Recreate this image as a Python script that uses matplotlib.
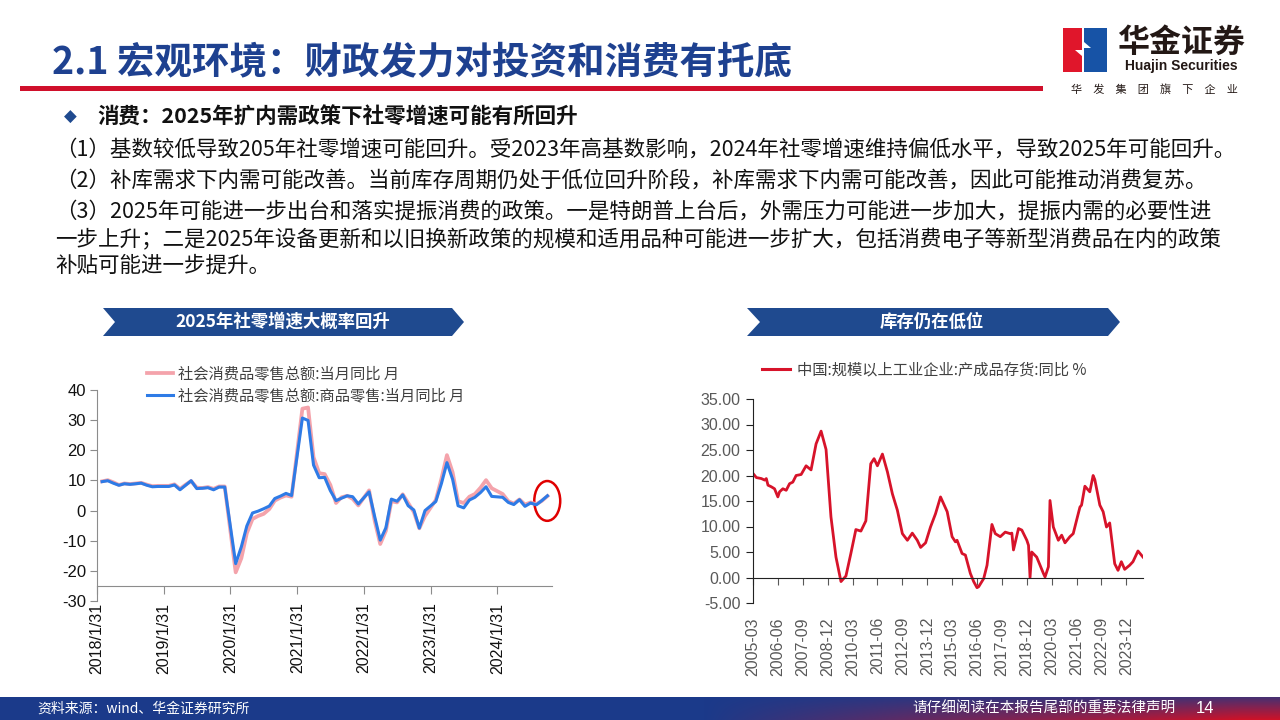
import matplotlib.pyplot as plt
from matplotlib.patches import Polygon, Ellipse, Rectangle
from matplotlib.lines import Line2D
import numpy as np
import pandas as pd

plt.rcParams['font.family'] = ['Noto Sans CJK SC', 'DejaVu Sans']

W, H = 1280, 720
NAVY = '#1F4A8F'
TITLE_BLUE = '#1E4190'
RED = '#D0102B'

# ---- 社零当月同比 (Jan-Feb reported together, plotted at Feb) ----
retail_years = [2018, 2019, 2020, 2021, 2022, 2023, 2024]
retail_total = [9.7, 10.1, 9.4, 8.5, 9.0, 8.8, 9.0, 9.2, 8.6, 8.1, 8.2,
                8.2, 8.7, 7.2, 8.6, 9.8, 7.6, 7.5, 7.8, 7.2, 8.0, 8.0,
                -20.5, -15.8, -7.5, -2.8, -1.8, -1.1, 0.5, 3.3, 4.3, 5.0, 4.6,
                33.8, 34.2, 17.7, 12.4, 12.1, 8.5, 2.5, 4.4, 4.9, 3.9, 1.7,
                6.7, -3.5, -11.1, -6.7, 3.1, 2.7, 5.4, 2.5, -0.5, -5.9, -1.8,
                3.5, 10.6, 18.4, 12.7, 3.1, 2.5, 4.6, 5.5, 7.6, 10.1, 7.4,
                5.5, 3.1, 2.3, 3.7, 2.0, 2.7, 2.1, 3.2, 4.8]
retail_goods = [9.6, 9.9, 9.1, 8.4, 8.9, 8.7, 8.9, 9.1, 8.4, 7.9, 8.0,
                8.0, 8.5, 6.9, 8.4, 9.9, 7.3, 7.4, 7.6, 6.9, 7.8, 7.8,
                -17.6, -12.0, -5.1, -0.8, -0.2, 0.6, 1.5, 4.0, 4.8, 5.7, 5.0,
                30.7, 29.9, 15.1, 10.9, 11.0, 6.6, 3.3, 4.1, 4.9, 4.6, 2.2,
                6.2, -2.1, -9.8, -5.7, 3.8, 3.1, 5.2, 1.6, 0.2, -5.8, 0.0,
                3.0, 9.0, 15.9, 10.4, 1.6, 0.9, 3.5, 4.4, 6.0, 7.9, 4.7,
                4.4, 2.7, 2.0, 3.6, 1.4, 2.5, 1.9, 3.3, 4.9]
retail_ticks = ['2018/1/31', '2019/1/31', '2020/1/31', '2021/1/31',
                '2022/1/31', '2023/1/31', '2024/1/31']
retail_labels = ['社会消费品零售总额:当月同比 月', '社会消费品零售总额:商品零售:当月同比 月']

# ---- 规模以上工业企业产成品存货同比 ----
inv_months = ['2005-03', '2005-05', '2005-08', '2005-10', '2005-11', '2005-12',
              '2006-02', '2006-04', '2006-06', '2006-07', '2006-09', '2006-11',
              '2007-01', '2007-03', '2007-05', '2007-08', '2007-11',
              '2008-02', '2008-05', '2008-08', '2008-11',
              '2009-02', '2009-05', '2009-08', '2009-11',
              '2010-02', '2010-05', '2010-08', '2010-11',
              '2011-02', '2011-04', '2011-06', '2011-09', '2011-12',
              '2012-03', '2012-06', '2012-09', '2012-12',
              '2013-03', '2013-06', '2013-08', '2013-11',
              '2014-02', '2014-05', '2014-08', '2014-12',
              '2015-03', '2015-05', '2015-06', '2015-09', '2015-11',
              '2016-02', '2016-04', '2016-06', '2016-07', '2016-10', '2016-12',
              '2017-03', '2017-05', '2017-08', '2017-11',
              '2018-02', '2018-03', '2018-04', '2018-07', '2018-09', '2018-12',
              '2019-01', '2019-02', '2019-03', '2019-06', '2019-08', '2019-10', '2019-11',
              '2020-01', '2020-02', '2020-04', '2020-07', '2020-09', '2020-11',
              '2021-02', '2021-04', '2021-06', '2021-08', '2021-09', '2021-11',
              '2022-02', '2022-04', '2022-05', '2022-08', '2022-10', '2022-12',
              '2023-02', '2023-05', '2023-07', '2023-09', '2023-11',
              '2024-02', '2024-04', '2024-07', '2024-10']
inv_yoy = [20.4, 19.6, 19.4, 19.1, 19.4, 18.1,
           17.8, 17.4, 15.8, 16.8, 17.4, 17.1,
           18.4, 18.7, 20.0, 20.2, 21.9,
           21.1, 26.2, 28.7, 25.1,
           11.9, 4.0, -0.8, 0.3,
           4.7, 9.4, 9.1, 11.1,
           22.3, 23.3, 21.9, 24.2, 20.7,
           16.4, 13.2, 8.6, 7.3,
           8.7, 7.3, 5.9, 6.8,
           9.9, 12.5, 15.8, 12.9,
           8.0, 7.0, 7.3, 4.7, 4.4,
           0.8, -0.8, -2.0, -1.8, -0.2, 2.4,
           10.4, 8.6, 8.0, 8.9,
           8.6, 8.7, 5.4, 9.6, 9.3, 7.3,
           6.3, 0.0, 5.0, 4.0, 2.4, 0.8, 0.1,
           2.1, 15.1, 9.9, 7.3, 8.3, 6.8,
           8.0, 8.6, 11.2, 13.8, 14.2, 17.9,
           16.8, 20.0, 19.2, 14.2, 12.9, 9.9,
           10.7, 2.7, 1.4, 3.1, 1.6,
           2.4, 3.1, 5.2, 4.0]
inv_label = '中国:规模以上工业企业:产成品存货:同比 %'

body_lines = [
    '（1）基数较低导致205年社零增速可能回升。受2023年高基数影响，2024年社零增速维持偏低水平，导致2025年可能回升。',
    '（2）补库需求下内需可能改善。当前库存周期仍处于低位回升阶段，补库需求下内需可能改善，因此可能推动消费复苏。',
    '（3）2025年可能进一步出台和落实提振消费的政策。一是特朗普上台后，外需压力可能进一步加大，提振内需的必要性进',
    '一步上升；二是2025年设备更新和以旧换新政策的规模和适用品种可能进一步扩大，包括消费电子等新型消费品在内的政策',
    '补贴可能进一步提升。',
]
body_y = [150, 181, 212, 240, 266]


def rect(x0, y0, x1, y1):
    return [x0 / W, 1 - y1 / H, (x1 - x0) / W, (y1 - y0) / H]


fig = plt.figure(figsize=(12.8, 7.2), dpi=100)

# ---------- page decoration (pixel coordinates) ----------
deco = fig.add_axes([0, 0, 1, 1])
deco.set_xlim(0, W)
deco.set_ylim(H, 0)
deco.axis('off')

deco.text(52, 62, '2.1 宏观环境：财政发力对投资和消费有托底', fontsize=27,
          fontweight='bold', color=TITLE_BLUE, va='center', ha='left')
deco.add_patch(Rectangle((20, 86), 1023, 4.5, color=RED, lw=0))

# logo
deco.add_patch(Rectangle((1063, 28), 19, 44, color='#E0162B', lw=0))
deco.add_patch(Rectangle((1084, 28), 23, 44, color='#1753A6', lw=0))
deco.add_patch(Polygon([(1082, 28), (1084, 28), (1084, 42), (1091, 48), (1084, 48),
                        (1084, 72), (1082, 72), (1082, 56), (1075, 50), (1082, 50)],
                       closed=True, color='white', lw=0))
deco.text(1181, 43, '华金证券', fontsize=23, fontweight='heavy', color='#231815',
          ha='center', va='center')
deco.text(1181, 66, 'Huajin Securities', fontsize=10, fontweight='bold',
          family='Liberation Sans', color='#231815', ha='center', va='center')
deco.text(1154, 89, '华\u3000发\u3000集\u3000团\u3000旗\u3000下\u3000企\u3000业', fontsize=8,
          color='#231815', ha='center', va='center')

# bullet heading and body text
deco.text(70, 117, '◆', fontsize=12, color=NAVY, ha='center', va='center',
          family=['DejaVu Sans'])
deco.text(97, 117, '消费：2025年扩内需政策下社零增速可能有所回升', fontsize=15.5,
          fontweight='bold', color='#111111', va='center', ha='left')
for line, y in zip(body_lines, body_y):
    deco.text(55, y, line, fontsize=15.5, color='#111111', va='center', ha='left')

# chart banners
deco.add_patch(Polygon([(103, 308), (452, 308), (464, 322), (452, 336), (103, 336), (115, 322)],
                       closed=True, color=NAVY, lw=0))
deco.text(283, 322, '2025年社零增速大概率回升', fontsize=12.5, fontweight='bold',
          color='white', ha='center', va='center')
deco.add_patch(Polygon([(747, 308), (1108, 308), (1120, 322), (1108, 336), (747, 336), (760, 322)],
                       closed=True, color=NAVY, lw=0))
deco.text(932, 322, '库存仍在低位', fontsize=12.5, fontweight='bold',
          color='white', ha='center', va='center')

# footer gradient bar
gx = np.linspace(0, 1, W)[None, :]
gy = np.linspace(0, 1, 23)[:, None]
t = np.clip((gx - 0.55) / 0.42, 0, 1) * (0.25 + 0.75 * gy)
c_blue = np.array([27, 58, 138]) / 255
c_red = np.array([205, 18, 40]) / 255
grad = c_blue[None, None, :] * (1 - t[..., None]) + c_red[None, None, :] * t[..., None]
deco.imshow(grad, extent=(0, W, H, 697), aspect='auto', zorder=0)
deco.set_xlim(0, W)
deco.set_ylim(H, 0)
deco.text(37, 708.5, '资料来源：wind、华金证券研究所', fontsize=10, color='white',
          style='italic', ha='left', va='center')
deco.text(912, 708.5, '请仔细阅读在本报告尾部的重要法律声明', fontsize=10.5, color='white',
          ha='left', va='center')
deco.text(1196, 708.5, '14', fontsize=12, color='white', ha='left', va='center',
          family='Liberation Sans')

# ---------- left chart: 社零 ----------
retail_dates = [pd.Timestamp(y, m, 1) + pd.offsets.MonthEnd(0)
                for y in retail_years for m in range(2, 13)][:len(retail_total)]
ax1 = fig.add_axes(rect(97, 390, 552, 601))
ax1.patch.set_alpha(0)
ax1.plot(retail_dates, retail_total, color='#F4A3AB', lw=2.7, solid_joinstyle='round')
ax1.plot(retail_dates, retail_goods, color='#2E7BE6', lw=2.2, solid_joinstyle='round')
ax1.add_patch(Ellipse((pd.Timestamp('2024-10-30'), 3.2), width=142, height=13.2,
                      fill=False, edgecolor='#E00000', lw=1.8, clip_on=False))
ax1.set_ylim(-30, 40)
ax1.set_xlim(pd.Timestamp('2018-01-31'), pd.Timestamp('2024-11-25'))
ax1.spines[['top', 'right']].set_visible(False)
ax1.spines['bottom'].set_position(('data', -25))
for s in ('left', 'bottom'):
    ax1.spines[s].set_color('#8C8C8C')
ax1.set_yticks(range(-30, 41, 10), labels=[str(v) for v in range(-30, 41, 10)],
               fontfamily='Liberation Sans', fontsize=12)
ax1.set_xticks(pd.to_datetime([s.replace('/1/31', '-01-31') for s in retail_ticks]),
               labels=retail_ticks, rotation=90, fontfamily='Liberation Sans', fontsize=11.5)
ax1.tick_params(axis='y', length=5, color='#8C8C8C', pad=3, labelcolor='#111111')
ax1.tick_params(axis='x', length=6, color='#8C8C8C', pad=6, labelcolor='#111111')
h1 = [Line2D([], [], color='#F4A3AB', lw=2.7), Line2D([], [], color='#2E7BE6', lw=2.2)]
ax1.legend(h1, retail_labels, loc='center left', bbox_to_anchor=(147 / W, 1 - 385 / H),
           bbox_transform=fig.transFigure, frameon=False, fontsize=11, borderpad=0,
           borderaxespad=0, handlelength=1.7, handletextpad=0.35, labelspacing=0.35,
           labelcolor='#404040')

# ---------- right chart: 产成品存货 ----------
inv_dates = pd.to_datetime(inv_months) + pd.offsets.MonthEnd(0)
ax2 = fig.add_axes(rect(753, 399, 1143, 603))
ax2.patch.set_alpha(0)
ax2.plot(inv_dates, inv_yoy, color='#D7132A', lw=2.0, solid_joinstyle='round')
ax2.set_ylim(-5, 35)
ax2.set_xlim(pd.Timestamp('2005-03-31'), pd.Timestamp('2024-10-31'))
ax2.spines[['top', 'right']].set_visible(False)
ax2.spines['bottom'].set_position(('data', 0))
ax2.spines['left'].set_color('#222222')
ax2.spines['bottom'].set_color('#222222')
yt = np.arange(-5, 36, 5)
ax2.set_yticks(yt, labels=[f'{v:.2f}' for v in yt], fontfamily='Liberation Sans', fontsize=11.5)
inv_ticks = pd.date_range('2005-03-31', periods=16, freq='15ME')
ax2.set_xticks(inv_ticks, labels=[d.strftime('%Y-%m') for d in inv_ticks], rotation=90,
               fontfamily='Liberation Sans', fontsize=11.5)
ax2.tick_params(axis='y', length=5, color='#222222', pad=4, labelcolor='#595959')
ax2.tick_params(axis='x', length=5, color='#595959', pad=23.5, labelcolor='#595959')
ax2.legend([Line2D([], [], color='#D7132A', lw=2.2)], [inv_label], loc='center left',
           bbox_to_anchor=(762 / W, 1 - 370 / H), bbox_transform=fig.transFigure,
           frameon=False, fontsize=11, borderpad=0, borderaxespad=0, handlelength=1.85,
           handletextpad=0.45, labelcolor='#404040')

fig.savefig('out.png', dpi=100)
